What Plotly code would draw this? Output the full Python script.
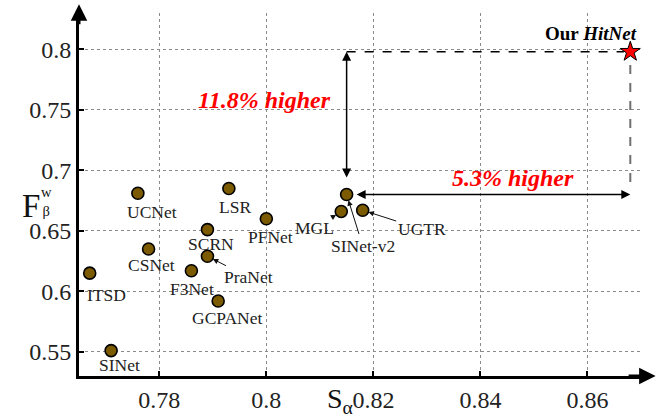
import plotly.graph_objects as go

# ---- data ----
methods = ["SINet", "ITSD", "UCNet", "CSNet", "F3Net", "SCRN", "PraNet", "GCPANet",
           "LSR", "PFNet", "MGL", "SINet-v2", "UGTR"]
s_alpha = [0.771, 0.767, 0.776, 0.778, 0.786, 0.789, 0.789, 0.791,
           0.793, 0.800, 0.814, 0.815, 0.818]
f_beta = [0.551, 0.615, 0.681, 0.635, 0.617, 0.651, 0.629, 0.592,
          0.685, 0.660, 0.666, 0.680, 0.667]
ours_name = "HitNet"
ours_s = 0.868
ours_f = 0.798

x_ticks = [0.78, 0.80, 0.82, 0.84, 0.86]
x_tick_text = ["0.78", "0.8", "0.82", "0.84", "0.86"]
y_ticks = [0.55, 0.60, 0.65, 0.70, 0.75, 0.80]
y_tick_text = ["0.55", "0.6", "0.65", "0.7", "0.75", "0.8"]

# label offsets (pixels, text centre relative to point) and whether an arrow is drawn
label_style = {
    "SINet": (8, 14, False), "ITSD": (17, 22, False), "UCNet": (14, 19, False),
    "CSNet": (3, 16, False), "F3Net": (1, 18, False), "SCRN": (4, 14, False),
    "PraNet": (41, 21, True), "GCPANet": (9, 17, False), "LSR": (6, 19, False),
    "PFNet": (4, 18, False), "MGL": (-27, 17, True), "SINet-v2": (16, 51, True),
    "UGTR": (59, 19, True),
}

SERIF = "Liberation Serif"
MARK = "#7b5a00"

W, H = 665, 420
L, R, T, B = 79, 24, 13, 44
pw, ph = W - L - R, H - T - B


def px(x):
    return (x - L) / pw


def py(y):
    return (H - B - y) / ph


fig = go.Figure()
fig.add_trace(go.Scatter(
    x=s_alpha, y=f_beta, mode="markers", text=methods,
    marker=dict(size=12, color=MARK, line=dict(color="black", width=1.6)),
    showlegend=False, cliponaxis=False))
fig.add_trace(go.Scatter(
    x=[ours_s], y=[ours_f], mode="markers", text=[ours_name],
    marker=dict(symbol="star", size=15, color="red", line=dict(color="black", width=1)),
    showlegend=False, cliponaxis=False))

annotations = []
for m, sx, fy in zip(methods, s_alpha, f_beta):
    dx, dy, arrow = label_style[m]
    if arrow:
        annotations.append(dict(x=sx, y=fy, xref="x", yref="y", text=m, showarrow=True,
                                ax=dx, ay=dy, arrowhead=2, arrowsize=1.1, arrowwidth=1,
                                arrowcolor="#111", standoff=6,
                                font=dict(family=SERIF, size=17.5, color="#222")))
    else:
        annotations.append(dict(x=sx, y=fy, xref="x", yref="y", text=m, showarrow=False,
                                xshift=dx, yshift=-dy,
                                font=dict(family=SERIF, size=17.5, color="#222")))

sv2_s = s_alpha[methods.index("SINet-v2")]
sv2_f = f_beta[methods.index("SINet-v2")]

shapes = [
    # black dashed horizontal from SINet-v2 column to HitNet
    dict(type="line", xref="x", yref="y", x0=sv2_s, y0=ours_f, x1=ours_s - 0.0012, y1=ours_f,
         line=dict(color="black", width=1.5, dash="dash")),
    # gray dashed vertical from HitNet down
    dict(type="line", xref="x", yref="y", x0=ours_s, y0=ours_f - 0.011, x1=ours_s, y1=sv2_f + 0.003,
         line=dict(color="#707070", width=2, dash="dash")),
]

# double arrows (gap annotations)
annotations.append(dict(x=sv2_s, y=ours_f, ax=sv2_s, ay=sv2_f, xref="x", yref="y",
                        axref="x", ayref="y", showarrow=True, arrowhead=2, startarrowhead=2,
                        arrowside="end+start", arrowsize=1.2, startarrowsize=1.2,
                        arrowwidth=1.5, arrowcolor="black", startstandoff=7, text=" "))
annotations.append(dict(x=ours_s, y=sv2_f, ax=sv2_s, ay=sv2_f, xref="x", yref="y",
                        axref="x", ayref="y", showarrow=True, arrowhead=2, startarrowhead=2,
                        arrowside="end+start", arrowsize=1.2, startarrowsize=1.2,
                        arrowwidth=1.5, arrowcolor="black", startstandoff=7, text=" "))

annotations += [
    dict(x=0.7997, y=0.758, xref="x", yref="y", showarrow=False,
         text="<b><i>11.8% higher</i></b>", font=dict(family=SERIF, size=24, color="#ff0000")),
    dict(x=0.846, y=0.694, xref="x", yref="y", showarrow=False,
         text="<b><i>5.3% higher</i></b>", font=dict(family=SERIF, size=24, color="#ff0000")),
    dict(x=ours_s, y=ours_f, xref="x", yref="y", showarrow=False, xanchor="right",
         yanchor="bottom", xshift=9, yshift=6,
         text="<b>Our <i>HitNet</i></b>", font=dict(family=SERIF, size=19, color="black")),
    # axis arrows
    dict(x=0, y=1.024, xref="paper", yref="paper", ax=0, ay=30, showarrow=True,
         arrowhead=2, arrowsize=1.1, arrowwidth=3, arrowcolor="black", text=" "),
    dict(x=1.026, y=0, xref="paper", yref="paper", ax=-30, ay=0, showarrow=True,
         arrowhead=2, arrowsize=1.1, arrowwidth=3, arrowcolor="black", text=" "),
    # axis titles
    dict(x=px(20), y=py(206), xref="paper", yref="paper", text="F", showarrow=False,
         font=dict(family=SERIF, size=33, color="#111")),
    dict(x=px(39), y=py(201), xref="paper", yref="paper", text="w<br>β", showarrow=False,
         font=dict(family=SERIF, size=14.5, color="#111")),
    dict(x=px(340), y=py(419.5), xref="paper", yref="paper", text="S<sub>α</sub>",
         yanchor="bottom", showarrow=False, font=dict(family=SERIF, size=28, color="#111")),
]

fig.update_layout(
    width=W, height=H, margin=dict(l=L, r=R, t=T, b=B, autoexpand=False),
    paper_bgcolor="white", plot_bgcolor="white",
    annotations=annotations, shapes=shapes,
    xaxis=dict(range=[0.765, 0.87], tickvals=x_ticks, ticktext=x_tick_text,
               showgrid=True, gridcolor="#8a8a8a", griddash="dot", gridwidth=1,
               zeroline=False, showline=True, linecolor="black", linewidth=3,
               ticks="inside", ticklen=5, tickwidth=2, tickcolor="black", automargin=False,
               tickfont=dict(family=SERIF, size=24, color="#222")),
    yaxis=dict(range=[0.53, 0.83], tickvals=y_ticks, ticktext=y_tick_text,
               showgrid=True, gridcolor="#8a8a8a", griddash="dot", gridwidth=1,
               zeroline=False, showline=True, linecolor="black", linewidth=3,
               ticks="inside", ticklen=5, tickwidth=2, tickcolor="black", automargin=False,
               tickfont=dict(family=SERIF, size=24, color="#222")),
)

fig.write_html("out.html", config={"displayModeBar": False},
               post_script="document.body.style.margin='0px';document.body.style.overflow='hidden';")
